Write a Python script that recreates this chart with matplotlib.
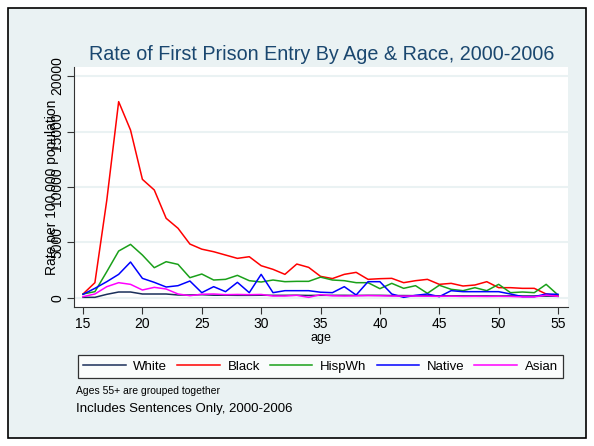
import numpy as np
import matplotlib
matplotlib.use("Agg")
import matplotlib.pyplot as plt
from matplotlib.patches import Rectangle

plt.rcParams['font.family'] = ['Liberation Sans', 'DejaVu Sans']

ages = list(range(15, 56))
white = [60, 60, 330, 540, 540, 360, 360, 360, 270, 270, 300,
         250, 250, 240, 240, 250, 240, 240, 250, 230, 240,
         240, 240, 230, 240, 240, 220, 220, 210, 210, 200,
         200, 190, 190, 190, 180, 190, 180, 180, 170, 150]
black = [360, 1380, 8800, 17690, 15130, 10690, 9730, 7180, 6280, 4860, 4400,
         4170, 3870, 3570, 3720, 2910, 2580, 2130, 3060, 2760, 1950,
         1750, 2130, 2310, 1680, 1740, 1770, 1380, 1560, 1680, 1230,
         1320, 1080, 1170, 1470, 930, 930, 870, 870, 360, 180]
hispwh = [360, 570, 2370, 4230, 4830, 3870, 2730, 3270, 3030, 1830, 2160,
          1620, 1680, 2040, 1560, 1440, 1620, 1470, 1500, 1500, 1880,
          1620, 1560, 1380, 1380, 840, 1320, 870, 1110, 420, 1150,
          780, 660, 930, 660, 1230, 480, 540, 480, 1230, 270]
native = [330, 870, 1470, 2130, 3240, 1770, 1410, 990, 1110, 1530, 480,
          1020, 570, 1410, 480, 2130, 480, 660, 660, 660, 520,
          480, 1020, 270, 1470, 1470, 360, 60, 240, 360, 120,
          660, 570, 570, 570, 570, 360, 120, 120, 360, 330]
asian = [120, 360, 1020, 1380, 1230, 720, 960, 810, 360, 210, 340,
         360, 300, 320, 300, 320, 180, 180, 240, 60, 300,
         200, 180, 200, 220, 200, 180, 170, 180, 160, 150,
         170, 140, 150, 140, 150, 140, 100, 100, 250, 150]

labels = ["White", "Black", "HispWh", "Native", "Asian"]
colors = ["#1a2f5a", "#ff0000", "#1aa01a", "#0000ff", "#ff00ff"]
yticks = [0, 5000, 10000, 15000, 20000]
xticks = [15, 20, 25, 30, 35, 40, 45, 50, 55]

W, H = 594, 446
fig = plt.figure(figsize=(W / 100, H / 100), dpi=100)
fig.patch.set_facecolor("white")
fig.patches.append(Rectangle((8 / W, 8 / H), 578 / W, 430 / H, transform=fig.transFigure,
                             facecolor="#eaf2f3", edgecolor="black", linewidth=1.2, zorder=-10))

ax = fig.add_axes([74 / W, (H - 307) / H, 494 / W, 240 / H])
ax.set_facecolor("white")

for ser, lab, c in zip([white, black, hispwh, native, asian], labels, colors):
    ax.plot(ages, ser, color=c, linewidth=1.1, label=lab)

ax.set_xlim(14.24, 55.84)
ax.set_ylim(-811, 20811)
ax.set_xticks(xticks)
ax.set_yticks(yticks)
ax.set_yticklabels([str(v) for v in yticks], rotation=90, va="center")
ax.tick_params(axis="both", direction="out", length=5, width=0.8, color="#333333",
               labelsize=10, pad=2)
ax.yaxis.grid(True, color="#eaf2f3", linewidth=1.5)
ax.set_axisbelow(True)
for s in ["top", "right"]:
    ax.spines[s].set_visible(False)
for s in ["left", "bottom"]:
    ax.spines[s].set_color("#333333")
    ax.spines[s].set_linewidth(0.8)

ax.set_xlabel("age", fontsize=9, labelpad=1)
ax.set_ylabel("Rate per 100,000 population", fontsize=10)
ax.yaxis.set_label_coords(-0.03, 0.5)

fig.text(322 / W, (H - 54) / H, "Rate of First Prison Entry By Age & Race, 2000-2006",
         ha="center", va="center", fontsize=14.2, color="#1a476f")

leg = fig.legend(loc="lower left", bbox_to_anchor=(78 / W, (H - 378) / H, 485 / W, 26 / H),
                 ncol=5, mode="expand", fontsize=9.5, handlelength=3.2, handletextpad=0.6,
                 columnspacing=0.8, frameon=True, fancybox=False, borderaxespad=0)
leg.get_frame().set_edgecolor("black")
leg.get_frame().set_linewidth(0.9)

fig.text(76 / W, (H - 391) / H, "Ages 55+ are grouped together", fontsize=7.5, va="center")
fig.text(76 / W, (H - 409) / H, "Includes Sentences Only, 2000-2006", fontsize=9.5, va="center")

fig.savefig("out.png", dpi=100, facecolor=fig.get_facecolor())
